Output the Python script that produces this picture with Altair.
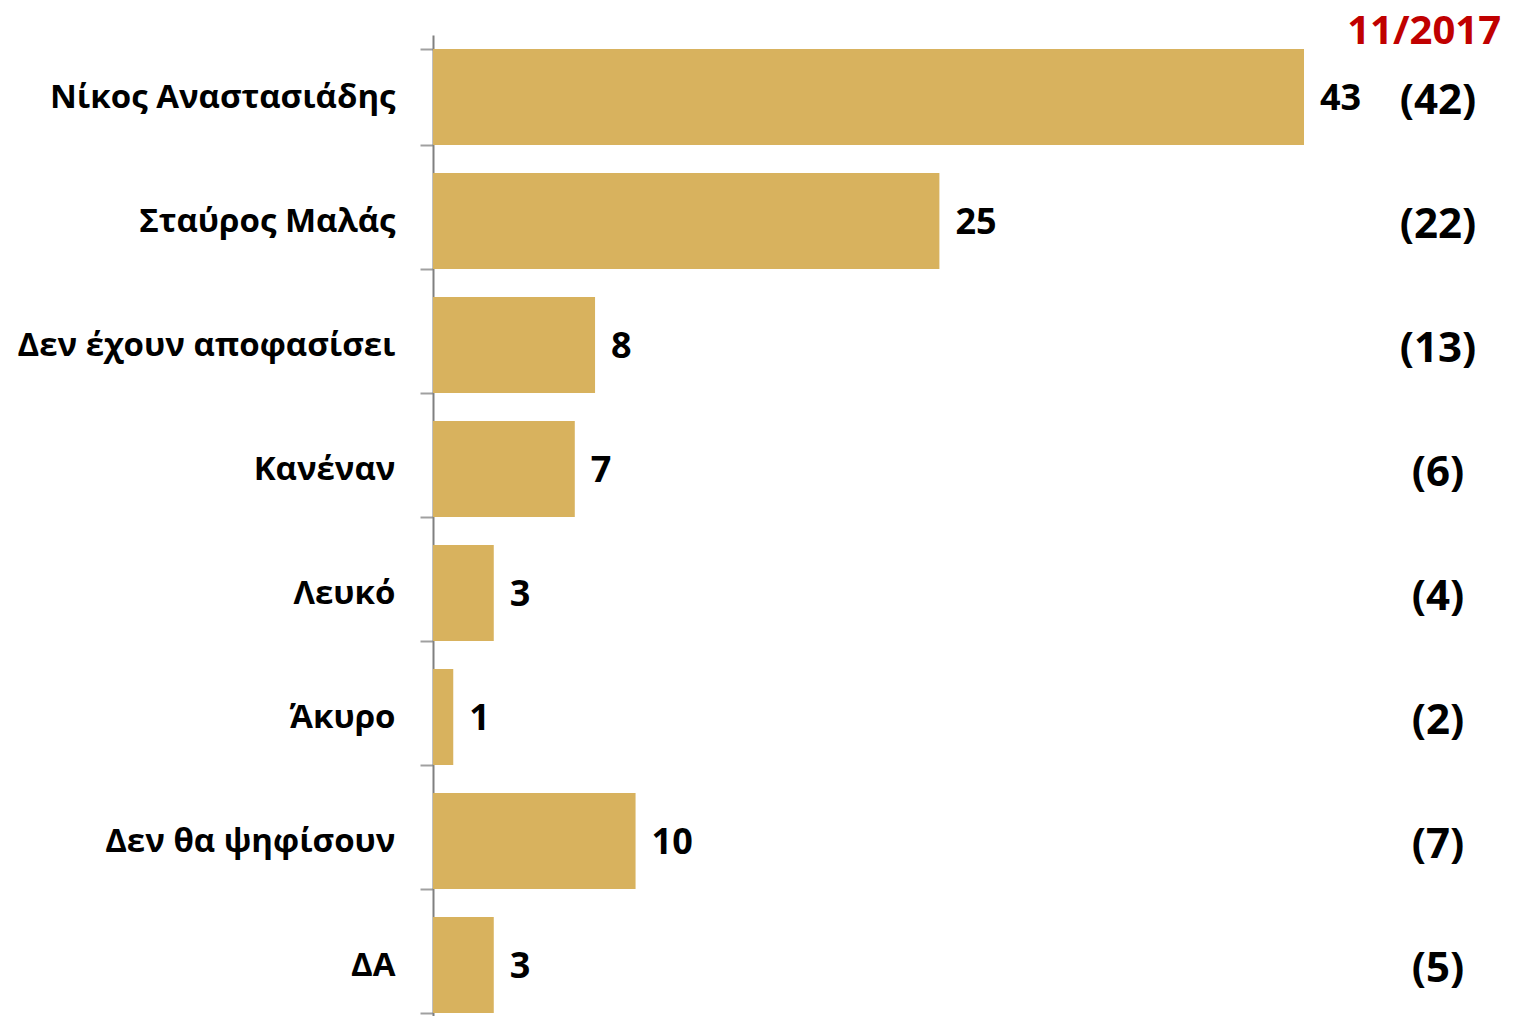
import altair as alt
import pandas as pd

categories = ["Νίκος Αναστασιάδης\u00a0", "Σταύρος Μαλάς", "Δεν έχουν αποφασίσει",
              "Κανέναν", "Λευκό", "Άκυρο", "Δεν θα ψηφίσουν", "ΔΑ"]
values = [43, 25, 8, 7, 3, 1, 10, 3]
previous = ["(42)", "(22)", "(13)", "(6)", "(4)", "(2)", "(7)", "(5)"]
period_label = "11/2017"

df = pd.DataFrame({"cat": categories, "val": values, "prev": previous})

FONT = "Open Sans"
y_enc = alt.Y("cat:N", sort=categories, title=None,
              scale=alt.Scale(range=[27, 1019], paddingInner=0.226, paddingOuter=0.113),
              axis=alt.Axis(labelFont=FONT, labelFontSize=33, labelFontWeight="bold",
                            labelColor="black", labelPadding=25, tickSize=13,
                            tickBand="extent", domainColor="#808080", domainWidth=2,
                            tickColor="#a0a0a0", tickWidth=2, grid=False,
                            labelLimit=500))
x_enc = alt.X("val:Q", title=None, axis=None, scale=alt.Scale(domain=[0, 53.12], nice=False))

base = alt.Chart(df)
bars = base.mark_bar(color="#D8B25E").encode(x=x_enc, y=y_enc)
vals = base.mark_text(align="left", baseline="middle", dx=16, dy=2, font=FONT,
                      fontSize=36, fontWeight="bold", color="black").encode(
    x=x_enc, y=y_enc, text="val:Q")
prev = base.mark_text(align="center", baseline="middle", dy=4, font=FONT,
                      fontSize=42, fontWeight="bold", color="black").encode(
    x=alt.value(1005), y=y_enc, text="prev:N")
date = alt.Chart(pd.DataFrame({"t": [period_label]})).mark_text(
    align="right", baseline="middle", font=FONT, fontSize=40, fontWeight="bold",
    color="#C00000").encode(x=alt.value(1068), y=alt.value(24), text="t:N")

chart = alt.layer(bars, vals, prev, date).properties(
    width=1076, height=1008,
    padding={"left": 425, "top": 0, "right": 0, "bottom": 0},
    autosize=alt.AutoSizeParams(type="none"),
).configure_view(stroke=None)

chart.save("out.html", embed_options={"renderer": "svg", "actions": False})
